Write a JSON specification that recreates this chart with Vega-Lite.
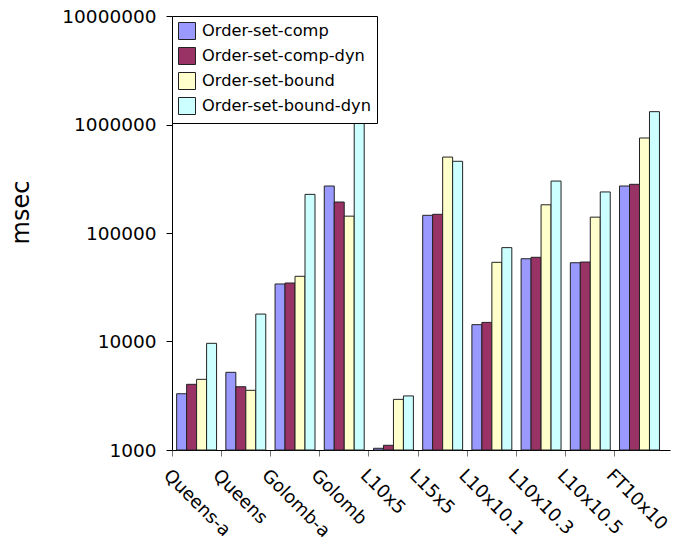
{
  "$schema": "https://vega.github.io/schema/vega-lite/v6.json",
  "width": 498,
  "height": 434,
  "autosize": "none",
  "padding": {"left": 172, "top": 16, "right": 9, "bottom": 93},
  "config": {
    "font": "DejaVu Sans",
    "view": {"stroke": null},
    "axis": {"grid": false, "domainColor": "#000", "tickColor": "#000", "labelColor": "#000", "titleColor": "#000"}
  },
  "data": {
    "values": [
      {"bench": "Queens-a", "series": "Order-set-comp", "msec": 3300},
      {"bench": "Queens-a", "series": "Order-set-comp-dyn", "msec": 4030},
      {"bench": "Queens-a", "series": "Order-set-bound", "msec": 4480},
      {"bench": "Queens-a", "series": "Order-set-bound-dyn", "msec": 9620},
      {"bench": "Queens", "series": "Order-set-comp", "msec": 5200},
      {"bench": "Queens", "series": "Order-set-comp-dyn", "msec": 3830},
      {"bench": "Queens", "series": "Order-set-bound", "msec": 3550},
      {"bench": "Queens", "series": "Order-set-bound-dyn", "msec": 17900},
      {"bench": "Golomb-a", "series": "Order-set-comp", "msec": 33900},
      {"bench": "Golomb-a", "series": "Order-set-comp-dyn", "msec": 34600},
      {"bench": "Golomb-a", "series": "Order-set-bound", "msec": 39900},
      {"bench": "Golomb-a", "series": "Order-set-bound-dyn", "msec": 227000},
      {"bench": "Golomb", "series": "Order-set-comp", "msec": 271000},
      {"bench": "Golomb", "series": "Order-set-comp-dyn", "msec": 193000},
      {"bench": "Golomb", "series": "Order-set-bound", "msec": 143000},
      {"bench": "Golomb", "series": "Order-set-bound-dyn", "msec": 1150000},
      {"bench": "L10x5", "series": "Order-set-comp", "msec": 1037},
      {"bench": "L10x5", "series": "Order-set-comp-dyn", "msec": 1105},
      {"bench": "L10x5", "series": "Order-set-bound", "msec": 2930},
      {"bench": "L10x5", "series": "Order-set-bound-dyn", "msec": 3150},
      {"bench": "L15x5", "series": "Order-set-comp", "msec": 145600},
      {"bench": "L15x5", "series": "Order-set-comp-dyn", "msec": 148700},
      {"bench": "L15x5", "series": "Order-set-bound", "msec": 501000},
      {"bench": "L15x5", "series": "Order-set-bound-dyn", "msec": 458000},
      {"bench": "L10x10.1", "series": "Order-set-comp", "msec": 14300},
      {"bench": "L10x10.1", "series": "Order-set-comp-dyn", "msec": 15000},
      {"bench": "L10x10.1", "series": "Order-set-bound", "msec": 53700},
      {"bench": "L10x10.1", "series": "Order-set-bound-dyn", "msec": 73300},
      {"bench": "L10x10.3", "series": "Order-set-comp", "msec": 57900},
      {"bench": "L10x10.3", "series": "Order-set-comp-dyn", "msec": 59700},
      {"bench": "L10x10.3", "series": "Order-set-bound", "msec": 182000},
      {"bench": "L10x10.3", "series": "Order-set-bound-dyn", "msec": 301000},
      {"bench": "L10x10.5", "series": "Order-set-comp", "msec": 53200},
      {"bench": "L10x10.5", "series": "Order-set-comp-dyn", "msec": 54000},
      {"bench": "L10x10.5", "series": "Order-set-bound", "msec": 140000},
      {"bench": "L10x10.5", "series": "Order-set-bound-dyn", "msec": 239000},
      {"bench": "FT10x10", "series": "Order-set-comp", "msec": 271000},
      {"bench": "FT10x10", "series": "Order-set-comp-dyn", "msec": 281000},
      {"bench": "FT10x10", "series": "Order-set-bound", "msec": 751000},
      {"bench": "FT10x10", "series": "Order-set-bound-dyn", "msec": 1313000}
    ]
  },
  "mark": {"type": "bar", "stroke": "#222", "strokeWidth": 1},
  "encoding": {
    "x": {
      "field": "bench",
      "type": "nominal",
      "sort": null,
      "scale": {"paddingInner": 0, "paddingOuter": 0.06, "align": 0},
      "axis": {
        "title": null,
        "bandPosition": 0,
        "labelAngle": 45,
        "labelAlign": "left",
        "labelBaseline": "top",
        "labelFontSize": 18,
        "labelPadding": 10,
        "labelOffset": -24,
        "labelLimit": 0,
        "labelOverlap": false,
        "tickSize": 6,
        "tickColor": "#777",
        "domainColor": "#000"
      }
    },
    "xOffset": {
      "field": "series",
      "type": "nominal",
      "sort": ["Order-set-comp", "Order-set-comp-dyn", "Order-set-bound", "Order-set-bound-dyn"],
      "scale": {"paddingInner": 0, "paddingOuter": 0.465}
    },
    "y": {
      "field": "msec",
      "type": "quantitative",
      "scale": {"type": "log", "domain": [1000, 10000000], "nice": false},
      "axis": {
        "title": "msec",
        "titleFontSize": 24,
        "titleFontWeight": "normal",
        "titlePadding": 28,
        "titleY": 196,
        "values": [1000, 10000, 100000, 1000000, 10000000],
        "format": "d",
        "labelFontSize": 18.5,
        "labelPadding": 10,
        "tickSize": 6
      }
    },
    "y2": {"datum": 1000},
    "color": {
      "field": "series",
      "type": "nominal",
      "scale": {
        "domain": ["Order-set-comp", "Order-set-comp-dyn", "Order-set-bound", "Order-set-bound-dyn"],
        "range": ["#9999ff", "#993366", "#ffffcc", "#ccffff"]
      },
      "legend": {
        "title": null,
        "orient": "top-left",
        "offset": 0,
        "padding": 6,
        "fillColor": "#fff",
        "strokeColor": "#000",
        "symbolType": "square",
        "symbolSize": 289,
        "symbolStrokeColor": "#222",
        "symbolStrokeWidth": 1,
        "symbolOpacity": 1,
        "labelFontSize": 16.25,
        "labelLimit": 0,
        "labelColor": "#000",
        "labelOffset": 6,
        "rowPadding": 3
      }
    }
  }
}
